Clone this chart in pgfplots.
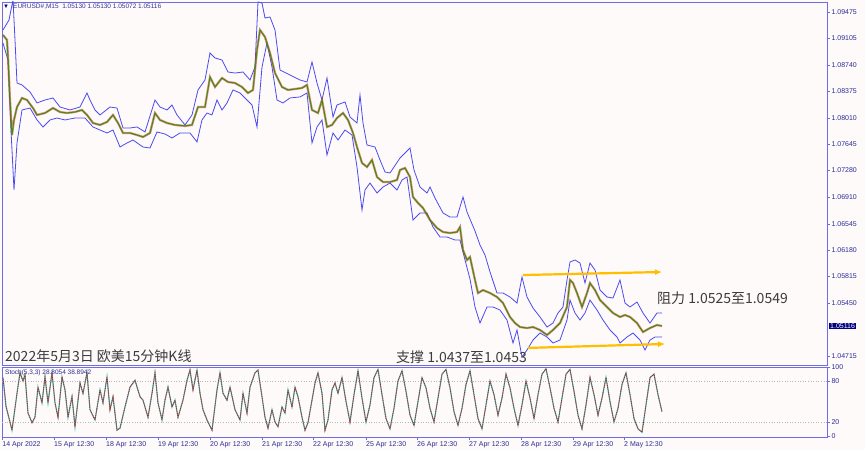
\documentclass[border=0pt]{standalone}
\usepackage{pgfplots}
\pgfplotsset{compat=1.18}
\usepackage{fontspec}
\setmainfont{Liberation Sans}
\newfontfamily\cjk{Noto Sans CJK SC}
\usetikzlibrary{arrows.meta}

\definecolor{bg}{RGB}{253,250,249}
\definecolor{frame}{RGB}{110,110,225}
\definecolor{lbl}{RGB}{45,45,150}
\definecolor{band}{RGB}{75,75,240}
\definecolor{candr}{RGB}{230,40,30}
\definecolor{candg}{RGB}{0,200,0}
\definecolor{arrowc}{RGB}{255,190,0}
\definecolor{stk}{RGB}{32,178,170}
\definecolor{navy}{RGB}{0,0,128}
\definecolor{txt}{RGB}{60,60,60}

\begin{document}
\begin{tikzpicture}[x=1pt,y=1pt]
\fill[bg] (0,0) rectangle (865,450);

% price panel (x = chart column, y = EURUSD price)
\begin{axis}[
  at={(2pt,85pt)}, anchor=south west, scale only axis,
  width=825pt, height=363pt,
  xmin=2, xmax=827, ymin=1.04590, ymax=1.09609,
  axis line style={frame, line width=0.8pt},
  xtick=\empty,
  ytick={1.04715,1.05450,1.05815,1.06180,1.06545,1.06910,1.07280,1.07645,1.08010,1.08375,1.08740,1.09105,1.09475},
  yticklabels={1.04715,1.05450,1.05815,1.06180,1.06545,1.06910,1.07280,1.07645,1.08010,1.08375,1.08740,1.09105,1.09475},
  ytick pos=right, yticklabel pos=right, tick align=outside,
  major tick length=3pt, tick style={frame},
  yticklabel style={font=\fontsize{7}{8}\selectfont, text=lbl, xshift=-2pt},
]
% upper envelope
\addplot[band, line width=0.8pt] coordinates {
(3,1.09222)(9,1.09360)(13,1.09637)(15,1.09084)(17,1.08489)(22,1.08462)(30,1.08365)(37,1.08213)(45,1.08254)(53,1.08282)(60,1.08157)(70,1.08116)(80,1.08157)(87,1.08351)(90,1.08254)(95,1.08116)(100,1.08047)(110,1.08157)(117,1.08143)(123,1.07867)(130,1.07867)(137,1.07881)(145,1.07812)(155,1.08254)(160,1.08157)(167,1.08116)(172,1.08185)(177,1.08047)(185,1.07909)(192,1.08047)(198,1.08393)(205,1.08531)(210,1.08904)(215,1.08835)(222,1.08807)(228,1.08641)(235,1.08627)(243,1.08641)(250,1.08531)(255,1.08710)(258,1.09609)(262,1.09595)(265,1.09388)(270,1.09402)(275,1.09222)(280,1.08669)(290,1.08600)(300,1.08531)(307,1.08503)(312,1.08780)(317,1.08489)(322,1.08254)(327,1.08558)(333,1.08019)(337,1.08185)(345,1.08227)(350,1.08019)(357,1.07936)(360,1.08323)(363,1.07936)(367,1.07632)(375,1.07604)(380,1.07425)(385,1.07259)(390,1.07245)(400,1.07452)(410,1.07590)(414,1.07286)(420,1.07051)(427,1.06968)(430,1.07051)(435,1.06899)(443,1.06692)(450,1.06636)(457,1.06636)(463,1.06913)(467,1.06705)(475,1.06443)(480,1.06249)(485,1.06111)(490,1.05876)(497,1.05585)(503,1.05585)(510,1.05530)(517,1.05447)(522,1.05806)(527,1.05530)(533,1.05378)(540,1.05254)(547,1.05115)(553,1.05170)(558,1.05309)(563,1.05392)(567,1.05765)(570,1.06014)(575,1.06042)(580,1.06000)(585,1.05723)(590,1.06000)(595,1.05903)(600,1.05626)(607,1.05530)(613,1.05516)(620,1.05765)(625,1.05447)(630,1.05392)(637,1.05461)(643,1.05309)(650,1.05170)(657,1.05309)(662,1.05309)
};
% lower envelope
\addplot[band, line width=0.8pt] coordinates {
(3,1.09042)(8,1.08807)(11,1.07839)(14,1.07010)(17,1.07660)(22,1.08116)(30,1.08143)(37,1.07978)(43,1.07881)(50,1.07978)(57,1.08005)(65,1.07978)(75,1.08005)(85,1.08005)(93,1.07881)(100,1.07839)(107,1.07798)(113,1.07839)(120,1.07604)(127,1.07660)(133,1.07701)(143,1.07604)(150,1.07590)(157,1.07812)(165,1.07784)(172,1.07729)(180,1.07798)(190,1.07798)(197,1.07674)(202,1.07978)(207,1.08074)(212,1.08047)(217,1.08254)(222,1.08116)(227,1.08213)(233,1.08393)(240,1.08351)(247,1.08254)(252,1.08185)(257,1.07881)(262,1.08710)(267,1.09042)(272,1.08710)(277,1.08254)(283,1.08213)(290,1.08282)(300,1.08296)(307,1.08351)(312,1.07660)(317,1.07881)(322,1.07978)(327,1.07494)(333,1.07798)(338,1.07701)(345,1.07839)(352,1.07770)(357,1.07328)(362,1.06733)(365,1.07010)(370,1.07106)(377,1.06968)(383,1.07051)(390,1.07106)(397,1.07010)(402,1.07148)(407,1.07189)(413,1.06595)(420,1.06692)(427,1.06692)(433,1.06498)(440,1.06360)(447,1.06360)(455,1.06318)(460,1.06318)(465,1.06042)(470,1.05779)(475,1.05392)(480,1.05170)(487,1.05392)(493,1.05392)(500,1.05350)(507,1.05212)(513,1.04894)(517,1.05074)(522,1.04700)(527,1.04797)(533,1.04935)(540,1.05032)(547,1.04977)(553,1.04894)(560,1.04935)(567,1.05212)(570,1.05488)(575,1.05309)(580,1.05212)(585,1.05309)(590,1.05488)(597,1.05350)(603,1.05212)(610,1.05074)(617,1.04977)(620,1.04894)(627,1.04977)(633,1.05032)(640,1.04935)(645,1.04797)(650,1.04935)(655,1.04977)(662,1.04977)
};
% candles, drawn as their running middle
\pgfplotstableread{
x p
3 1.09153
7 1.09084
8 1.08849
10 1.08254
12 1.07770
14 1.07978
17 1.08157
22 1.08282
27 1.08254
33 1.08143
37 1.08047
45 1.08074
53 1.08143
60 1.08088
67 1.08074
75 1.08088
82 1.08116
87 1.08047
93 1.07936
100 1.07909
107 1.07950
113 1.08047
118 1.07936
123 1.07798
130 1.07798
137 1.07770
143 1.07743
150 1.07798
155 1.08074
160 1.07978
167 1.07936
175 1.07909
185 1.07895
192 1.07909
198 1.08157
205 1.08157
210 1.08572
215 1.08434
222 1.08558
228 1.08503
235 1.08489
242 1.08434
248 1.08351
253 1.08393
257 1.08945
260 1.09222
265 1.09125
270 1.08904
275 1.08627
282 1.08434
288 1.08393
295 1.08406
302 1.08420
307 1.08462
312 1.08116
318 1.08074
322 1.08254
327 1.07881
332 1.07909
337 1.08005
343 1.08074
348 1.07978
353 1.07798
357 1.07604
362 1.07383
367 1.07328
372 1.07425
377 1.07189
383 1.07120
390 1.07120
397 1.07148
400 1.07286
405 1.07314
410 1.07189
413 1.06913
418 1.06830
423 1.06761
430 1.06595
437 1.06484
443 1.06429
450 1.06415
457 1.06429
460 1.06498
463 1.06180
467 1.06042
470 1.06083
475 1.05765
478 1.05585
483 1.05626
490 1.05585
497 1.05530
503 1.05447
510 1.05254
515 1.05170
520 1.05115
527 1.05101
533 1.05115
540 1.05074
547 1.05005
553 1.05074
560 1.05170
567 1.05392
570 1.05765
573 1.05723
577 1.05585
582 1.05392
587 1.05585
590 1.05723
595 1.05626
600 1.05488
607 1.05392
613 1.05309
620 1.05254
625 1.05281
630 1.05254
637 1.05170
643 1.05046
650 1.05101
657 1.05143
662 1.05129
}\candles
\addplot[candr, line width=2.2pt, opacity=0.6] table[x=x,y=p] {\candles};
\addplot[candg, line width=0.8pt] table[x=x,y=p] {\candles};
\addplot[black!60!olive, line width=0.3pt, opacity=0.7] table[x=x,y=p] {\candles};

\draw[arrowc, line width=2.2pt, -{Latex[length=7pt,width=6pt]}] (axis cs:523,1.05834) -- (axis cs:662,1.05876);
\draw[arrowc, line width=2.2pt, -{Latex[length=7pt,width=6pt]}] (axis cs:528,1.04826) -- (axis cs:665,1.04881);
\node[anchor=west, text=txt, font=\cjk\fontsize{14}{16}\selectfont, inner sep=0pt] at (axis cs:657,1.05517) {阻力 1.0525至1.0549};
\node[anchor=west, text=txt, font=\cjk\fontsize{14}{16}\selectfont, inner sep=0pt] at (axis cs:396,1.04701) {支撑 1.0437至1.0453};
\node[anchor=west, text=txt, font=\cjk\fontsize{14}{16}\selectfont, inner sep=0pt] at (axis cs:5,1.04715) {2022年5月3日 欧美15分钟K线};
\end{axis}

% stochastic panel
\begin{axis}[
  at={(2pt,13pt)}, anchor=south west, scale only axis,
  width=825pt, height=70pt,
  xmin=2, xmax=827, ymin=-2, ymax=100.5,
  axis line style={frame, line width=0.8pt},
  xtick={2.3,54,106,158,210,262,313,366,417,469,521,573,624},
  xticklabels={14 Apr 2022,15 Apr 12:30,18 Apr 12:30,19 Apr 12:30,20 Apr 12:30,21 Apr 12:30,22 Apr 12:30,25 Apr 12:30,26 Apr 12:30,27 Apr 12:30,28 Apr 12:30,29 Apr 12:30,2 May 12:30},
  xtick pos=bottom, xticklabel style={anchor=north west, font=\fontsize{7}{8}\selectfont, text=lbl, inner sep=0pt, yshift=-1pt},
  ytick={0,20,80,100}, yticklabels={0,20,80,100},
  ytick pos=right, yticklabel pos=right, tick align=outside,
  major tick length=3pt, tick style={frame},
  yticklabel style={font=\fontsize{7}{8}\selectfont, text=lbl, xshift=-2pt},
]
\draw[gray!55, dotted, line width=0.6pt] (axis cs:2,80) -- (axis cs:827,80);
\draw[gray!55, dotted, line width=0.6pt] (axis cs:2,20) -- (axis cs:827,20);
\pgfplotstableread{
x k
3 85
6 43
12 8
17 62
20 92
23 80
25 89
28 33
32 19
35 27
38 71
42 48
45 86
48 48
52 92
55 48
58 27
62 86
65 67
68 27
72 57
75 13
80 77
83 62
87 92
90 38
95 23
100 67
103 48
107 86
110 38
113 57
117 8
120 11
125 42
130 71
135 81
140 57
143 52
148 27
152 62
155 92
158 48
162 23
165 52
168 71
172 42
175 52
178 27
183 52
187 81
190 96
193 67
197 96
200 62
203 38
207 23
212 8
217 67
220 92
223 62
227 52
230 71
235 38
240 23
243 62
247 33
250 71
255 92
258 96
262 57
265 27
268 11
272 38
275 20
278 13
282 42
285 33
288 67
292 42
295 71
298 57
302 27
305 8
308 19
312 52
315 77
318 92
322 62
325 8
328 23
332 67
335 77
338 62
342 85
346 50
350 20
354 60
358 95
362 55
366 20
370 45
374 85
378 97
382 60
386 25
390 10
394 40
398 80
402 95
406 65
410 30
414 15
418 50
422 85
426 70
430 40
434 20
438 55
442 90
446 97
450 70
454 35
458 15
462 40
466 75
470 95
474 60
478 25
482 10
486 45
490 80
494 60
498 30
502 55
506 90
510 70
514 40
518 15
522 45
526 80
530 55
534 25
538 60
542 90
546 98
550 70
554 40
558 20
562 55
566 90
570 97
574 65
578 30
582 10
586 45
590 85
594 60
598 30
602 55
606 85
610 50
614 20
618 40
622 75
626 92
630 60
634 25
638 10
642 5
646 45
650 85
654 90
658 60
662 35
}\stoch
\addplot[stk, line width=1.1pt] table[x=x,y=k] {\stoch};
\addplot[red, line width=0.8pt, densely dotted] table[x=x,y=k] {\stoch};
\end{axis}

% header texts and last price box
\node[anchor=west, font=\fontsize{6.5}{7}\selectfont, text=navy!80, inner sep=0pt] at (13,443) {EURUSD\#,M15\ \ 1.05130 1.05130 1.05072 1.05116};
\node[font=\fontsize{6}{6}\selectfont, text=navy, inner sep=0pt] at (6,443) {▼};
\node[anchor=west, font=\fontsize{6.5}{7}\selectfont, text=lbl, inner sep=0pt] at (5,77) {Stoch(5,3,3) 28.8054 38.8942};
\node[anchor=west, fill=navy, text=white, font=\fontsize{7}{8}\selectfont, inner sep=1pt] at (829,124) {1.05116};
\end{tikzpicture}
\end{document}
